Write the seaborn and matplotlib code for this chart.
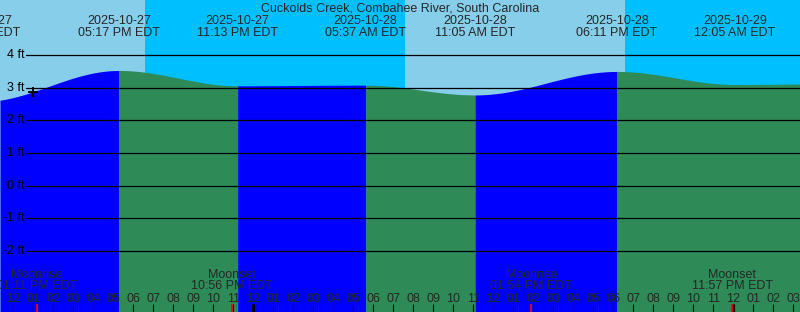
import numpy as np
import pandas as pd
import matplotlib
matplotlib.use("Agg")
import matplotlib.pyplot as plt
import matplotlib.transforms as mtransforms
import seaborn as sns

# ---------------- data ----------------
title = "Cuckolds Creek, Combahee River, South Carolina"
origin = pd.Timestamp("2025-10-27 00:00")

# high / low tide events (time, height in ft)
extreme_times = ["2025-10-27 10:20", "2025-10-27 17:17", "2025-10-27 23:13",
                 "2025-10-28 05:37", "2025-10-28 11:05", "2025-10-28 18:11",
                 "2025-10-29 00:05", "2025-10-29 06:25"]
extreme_heights = [2.57, 3.53, 3.06, 3.08, 2.78, 3.50, 3.10, 3.13]

# water colour changes (flood = blue, ebb = green)
water_change_times = ["2025-10-27 17:17", "2025-10-27 23:13", "2025-10-28 05:37",
                      "2025-10-28 11:05", "2025-10-28 18:11"]
water_first_phase = "flood"

# sun
sunset_1 = "2025-10-27 18:35"
sunrise_1 = "2025-10-28 07:35"
sunset_2 = "2025-10-28 18:35"

# moon events
moon_labels = ["Moonrise", "Moonset", "Moonrise", "Moonset"]
moon_times = ["2025-10-27 13:11", "2025-10-27 22:56", "2025-10-28 13:54", "2025-10-28 23:57"]
moon_time_labels = ["01:11 PM EDT", "10:56 PM EDT", "01:54 PM EDT", "11:57 PM EDT"]

now_time = "2025-10-27 13:00"

y_ticks_ft = [4, 3, 2, 1, 0, -1, -2]

# ---------------- helpers ----------------
def hrs(s):
    return (pd.Timestamp(s) - origin) / pd.Timedelta(hours=1)

T = np.array([hrs(s) for s in extreme_times])
H = np.array(extreme_heights)

def tide(t):
    t = np.atleast_1d(t).astype(float)
    out = np.empty_like(t)
    for k, tv in enumerate(t):
        i = np.searchsorted(T, tv) - 1
        i = min(max(i, 0), len(T) - 2)
        f = (tv - T[i]) / (T[i + 1] - T[i])
        out[k] = H[i] + (H[i + 1] - H[i]) * (1 - np.cos(np.pi * f)) / 2
    return out

W, Hpx = 800, 312
x0_hours = 12 - 13.33 / 20.0           # left edge
x1_hours = x0_hours + W / 20.0         # right edge
zero_px, px_per_ft = 185.62, 32.62
y_top = zero_px / px_per_ft
y_bot = (zero_px - Hpx) / px_per_ft

FONT = ["Liberation Sans", "DejaVu Sans"]
FS = 9

sns.set_style("white")
plt.rcParams["font.family"] = FONT

fig = plt.figure(figsize=(W / 100, Hpx / 100), dpi=100)
ax = fig.add_axes([0, 0, 1, 1])
ax.set_xlim(x0_hours, x1_hours)
ax.set_ylim(y_bot, y_top)
ax.axis("off")

SKY_DAY, SKY_NIGHT = "#87CEEB", "#00BFFF"
FLOOD, EBB = "#0000FF", "#2E8B57"

# sky
ax.axvspan(x0_hours, hrs(sunset_1), color=SKY_DAY, lw=0, zorder=0)
ax.axvspan(hrs(sunset_1), hrs(sunrise_1), color=SKY_NIGHT, lw=0, zorder=0)
ax.axvspan(hrs(sunrise_1), hrs(sunset_2), color=SKY_DAY, lw=0, zorder=0)
ax.axvspan(hrs(sunset_2), x1_hours, color=SKY_NIGHT, lw=0, zorder=0)

# water
bounds = [x0_hours] + [hrs(s) for s in water_change_times] + [x1_hours]
phase_cols = [FLOOD, EBB] if water_first_phase == "flood" else [EBB, FLOOD]
for k in range(len(bounds) - 1):
    tt = np.linspace(bounds[k], bounds[k + 1], 200)
    hh = tide(tt)
    ax.fill_between(tt, y_bot, hh, color=phase_cols[k % 2], lw=0, zorder=1)

# grid lines & labels
trans_y = mtransforms.blended_transform_factory(ax.transAxes, ax.transData)
for v in y_ticks_ft:
    ax.plot([26 / W, 1], [v, v], transform=trans_y, color="black", lw=0.9, zorder=3)
    ax.text(24.5 / W, v, f"{v} ft", transform=trans_y, ha="right", va="center",
            fontsize=FS, color="black", zorder=4)

# title
fig.text(0.5, 1 - 11.7 / Hpx, title, ha="center", va="baseline", fontsize=FS)

# top event labels
trans_top = mtransforms.blended_transform_factory(ax.transData, fig.transFigure)
for s in extreme_times:
    ts = pd.Timestamp(s)
    x = hrs(s)
    if x > x1_hours:
        continue
    ax.text(x, 1 - 24.2 / Hpx, ts.strftime("%Y-%m-%d"), transform=trans_top,
            ha="center", va="baseline", fontsize=FS, zorder=5)
    ax.text(x, 1 - 36.0 / Hpx, ts.strftime("%I:%M %p EDT"), transform=trans_top,
            ha="center", va="baseline", fontsize=FS, zorder=5)

# hour ticks and labels
hour_list = np.arange(np.ceil(x0_hours), np.floor(x1_hours) + 1)
xtr = ax.get_xaxis_transform()
ax.vlines(hour_list, 0, 8 / Hpx, transform=xtr, color="black", lw=0.8, zorder=5)
for hv in hour_list:
    lab = (origin + pd.Timedelta(hours=float(hv))).strftime("%I")
    ax.text(hv, 1 - 302.3 / Hpx, lab, transform=trans_top, ha="center",
            va="baseline", fontsize=FS, zorder=5)
midnights = [hv for hv in hour_list if int(hv) % 24 == 0]
ax.vlines(midnights, 0, 8 / Hpx, transform=xtr, color="black", lw=2.3, zorder=5)

# moon events
for lab, s, tl in zip(moon_labels, moon_times, moon_time_labels):
    x = hrs(s)
    ax.text(x, 1 - 278.3 / Hpx, lab, transform=trans_top, ha="center",
            va="baseline", fontsize=FS, zorder=5)
    ax.text(x, 1 - 289.3 / Hpx, tl, transform=trans_top, ha="center",
            va="baseline", fontsize=FS, zorder=5)
    ax.vlines([x], 0, 8 / Hpx, transform=xtr, color="red", lw=1.2, zorder=6)

# now marker
tn = hrs(now_time)
sns.scatterplot(x=[tn], y=tide(tn), marker="+", s=60, color="black",
                linewidth=1.3, ax=ax, zorder=7, legend=False)
ax.set_xlim(x0_hours, x1_hours)
ax.set_ylim(y_bot, y_top)
ax.axis("off")

fig.savefig("out.png", dpi=100)
